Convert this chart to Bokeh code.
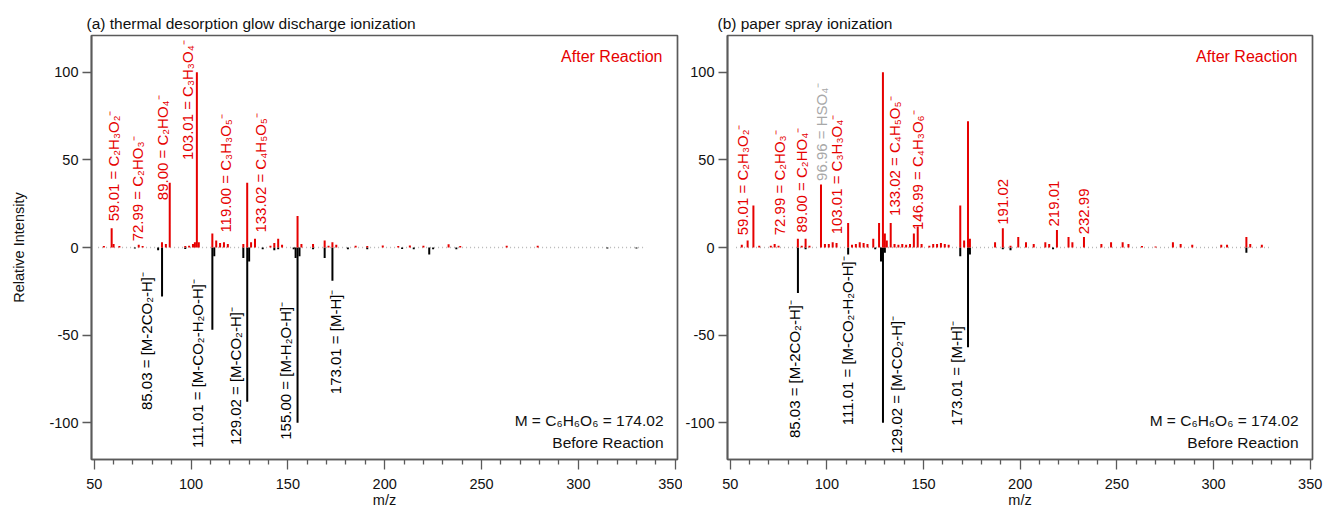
import numpy as np
from bokeh.plotting import figure
from bokeh.layouts import row
from bokeh.models import Range1d, FixedTicker, Label, ColumnDataSource
from bokeh.core.properties import value
from bokeh.embed import file_html
from bokeh.resources import INLINE

FONT = "Liberation Sans"
RED = "#e60000"
GREY_LAB = "#a8a8a8"
FRAME = "#5a5a5a"

# ---------------- data: panel (a) thermal desorption glow discharge ----------------
a_after_mz = [55, 59.01, 60, 63, 72.99, 75, 85, 87, 89.00, 97, 99, 101, 102, 103.01, 104,
              111, 113, 115, 117, 119.00, 127, 129, 131, 133.02, 141, 143, 145, 147, 155,
              157, 163, 169, 171, 173, 175, 185, 191, 199, 207, 213, 220, 233, 239, 263, 279]
a_after_int = [0.8, 11, 2, 0.8, 1.5, 0.8, 3, 2, 37, 0.8, 1, 2, 3, 100, 3,
               8, 4, 2.5, 3, 2, 2, 37, 3, 5, 1, 2.5, 5, 1.5, 18,
               2, 2, 4, 1, 3, 1.5, 1, 0.8, 1.2, 0.8, 1.2, 1, 1.8, 0.8, 1, 1]
a_before_mz = [71, 83, 85.03, 97, 111.01, 112, 127, 129.02, 130, 137, 143, 145, 153, 154,
               155.00, 156, 163, 169, 173.01, 181, 191, 209, 215, 223, 225, 237, 315, 330]
a_before_int = [-0.5, -1.5, -28, -0.8, -47, -5, -6, -88, -8, -1, -1.5, -1, -1, -6,
                -100, -5, -1, -6, -19, -1, -1, -0.8, -1, -4, -1, -1, -0.5, -0.5]

a_after_text = ["59.01 = C₂H₃O₂⁻", "72.99 = C₂HO₃⁻", "89.00 = C₂HO₄⁻",
                "103.01 = C₃H₃O₄⁻", "119.00 = C₃H₃O₅⁻", "133.02 = C₄H₅O₅⁻"]
a_before_text = ["85.03 = [M-2CO₂-H]⁻", "111.01 = [M-CO₂-H₂O-H]⁻", "129.02 = [M-CO₂-H]⁻",
                 "155.00 = [M-H₂O-H]⁻", "173.01 = [M-H]⁻"]

# ---------------- data: panel (b) paper spray ionization ----------------
b_after_mz = [56, 59.01, 62, 65, 71, 72.99, 75, 85, 87, 89.00, 91, 96.96, 99, 101, 103.01,
              105, 111, 113, 115, 117, 119, 121, 124, 127, 129, 130, 131, 133.02, 135, 137,
              139, 141, 143, 145, 146.99, 149, 153, 155, 157, 159, 161, 163, 169, 171, 173,
              174, 187, 191.02, 195, 199, 203, 207, 213, 215, 219.01, 225, 227, 232.99, 242,
              247, 253, 256, 263, 270, 279, 283, 289, 304, 307, 317, 319, 325]
b_after_int = [1.5, 4, 24, 1, 1, 2, 1, 5, 1, 5, 1, 36, 2, 2, 3,
               2.5, 14, 1.5, 2, 3, 2.5, 2, 5, 14, 100, 8, 4, 14, 2, 1.5,
               2, 1.5, 2, 8, 12, 2, 1, 2, 2, 2.5, 2, 1.5, 24, 4, 72,
               5, 3, 11, 1, 6, 3, 2, 3, 2, 10, 6, 3, 6, 2,
               3, 3, 2, 0.8, 0.5, 3, 2, 1.5, 1.5, 1.5, 6, 2, 1.5]
b_before_mz = [85.03, 89, 111.01, 125, 128, 129.02, 130, 169, 173.01, 174, 191, 195, 217, 317]
b_before_int = [-26, -1, -4, -1, -8, -100, -3, -5, -57, -4, -1, -1.5, -1, -3]

b_after_text = ["59.01 = C₂H₃O₂⁻", "72.99 = C₂HO₃⁻", "89.00 = C₂HO₄⁻", "96.96 = HSO₄⁻",
                "103.01 = C₃H₃O₄⁻", "133.02 = C₄H₅O₅⁻", "146.99 = C₄H₃O₆⁻",
                "191.02", "219.01", "232.99"]
b_before_text = ["85.03 = [M-2CO₂-H]⁻", "111.01 = [M-CO₂-H₂O-H]⁻",
                 "129.02 = [M-CO₂-H]⁻", "173.01 = [M-H]⁻"]

x_ticks = [50, 100, 150, 200, 250, 300, 350]
y_ticks = [-100, -50, 0, 50, 100]

# ---------------- annotation placement (text anchors, data units) ----------------
a_after_pos = [(60.0, 15), (72.3, 3.5), (85.3, 27), (98.2, 50), (117.8, 8.5), (135.9, 8.5)]
a_before_pos = [(77.0, -14), (103.3, -18), (123.0, -34), (148.8, -31), (174.6, -24)]
b_after_pos = [(56.3, 7), (75.4, 7), (86.8, 8.5), (97.1, 38), (104.9, 7.5), (134.8, 18),
               (146.7, 10), (191.1, 13), (217.4, 12), (232.9, 7.5)]
b_after_col = [RED, RED, RED, GREY_LAB, RED, RED, RED, RED, RED, RED]
b_before_pos = [(83.2, -30), (110.6, -5), (135.9, -39), (166.8, -42)]

X_LO, X_HI = 48.6, 351.2
Y_LO, Y_HI = -121, 121


def make_panel(title, title_off, after_mz, after_int, before_mz, before_int,
               after_text, after_pos, after_col, before_text, before_pos,
               ylabel, width, left, right):
    p = figure(width=width, height=512, x_range=Range1d(X_LO, X_HI),
               y_range=Range1d(Y_LO, Y_HI), output_backend="svg", toolbar_location=None,
               min_border_left=left, min_border_right=right, min_border_top=35,
               min_border_bottom=53, title=title)
    p.title.text_font = FONT
    p.title.text_font_size = "15.5px"
    p.title.text_font_style = "normal"
    p.title.align = "left"
    p.title.offset = title_off
    p.title.standoff = 7
    p.title.text_color = "#111111"
    p.grid.visible = False
    p.outline_line_color = FRAME
    p.outline_line_width = 1.7
    p.background_fill_color = "white"
    p.border_fill_color = "white"

    for ax in (p.xaxis[0], p.yaxis[0]):
        ax.axis_line_color = FRAME
        ax.axis_line_width = 1.7
        ax.major_tick_line_color = FRAME
        ax.minor_tick_line_color = FRAME
        ax.major_tick_line_width = 1.3
        ax.minor_tick_line_width = 1.3
        ax.major_tick_in = 0
        ax.minor_tick_in = 0
        ax.major_label_text_font = FONT
        ax.major_label_text_font_size = "14.5px"
        ax.major_label_text_color = "#111111"
        ax.axis_label_text_font = FONT
        ax.axis_label_text_font_size = "14.5px"
        ax.axis_label_text_font_style = "normal"
        ax.axis_label_text_color = "#111111"

    p.xaxis.ticker = FixedTicker(ticks=x_ticks,
                                 minor_ticks=[t for t in range(60, 350, 10) if t % 50])
    p.xaxis.major_tick_out = 10
    p.xaxis.minor_tick_out = 5
    p.xaxis.major_label_standoff = 9
    p.xaxis.axis_label = "m/z"
    p.xaxis.axis_label_standoff = 0

    p.yaxis.ticker = FixedTicker(ticks=y_ticks, minor_ticks=[])
    p.yaxis.major_label_overrides = {t: str(t) for t in y_ticks}
    p.yaxis.major_tick_out = 9
    p.yaxis.minor_tick_out = 0
    p.yaxis.major_label_standoff = 4
    if ylabel:
        p.yaxis.axis_label = ylabel
        p.yaxis.axis_label_standoff = 19

    # dotted baseline across the measured range
    all_mz = after_mz + before_mz
    p.line([min(all_mz) - 3, max(all_mz) + 5], [0, 0], line_color="#b8b8b8",
           line_dash="1 3", line_width=1.5)

    # stick spectra
    p.segment(x0=before_mz, y0=[0] * len(before_mz), x1=before_mz, y1=before_int,
              line_color="black", line_width=2)
    p.segment(x0=after_mz, y0=[0] * len(after_mz), x1=after_mz, y1=after_int,
              line_color=RED, line_width=2)

    # peak labels (rotated)
    src_a = ColumnDataSource(dict(x=[q[0] for q in after_pos], y=[q[1] for q in after_pos],
                                  t=after_text, c=after_col))
    p.text(x="x", y="y", text="t", text_color="c", source=src_a, angle=np.pi / 2,
           text_align="left", text_baseline="middle", text_font=value(FONT),
           text_font_size="15px")
    src_b = ColumnDataSource(dict(x=[q[0] for q in before_pos], y=[q[1] for q in before_pos],
                                  t=before_text))
    p.text(x="x", y="y", text="t", text_color="black", source=src_b, angle=np.pi / 2,
           text_align="right", text_baseline="middle", text_font=value(FONT),
           text_font_size="15px")

    p.add_layout(Label(x=X_HI, y=109, x_offset=-15, text="After Reaction", text_align="right",
                       text_baseline="middle", text_color=RED, text_font=FONT,
                       text_font_size="16px"))
    p.add_layout(Label(x=X_HI, y=-99, x_offset=-14, text="M = C₆H₆O₆ = 174.02",
                       text_align="right", text_baseline="middle", text_color="#111111",
                       text_font=FONT, text_font_size="15.5px"))
    p.add_layout(Label(x=X_HI, y=-111.5, x_offset=-14, text="Before Reaction",
                       text_align="right", text_baseline="middle", text_color="#111111",
                       text_font=FONT, text_font_size="15.5px"))
    return p


pa = make_panel("(a) thermal desorption glow discharge ionization", -5,
                a_after_mz, a_after_int, a_before_mz, a_before_int,
                a_after_text, a_after_pos, [RED] * len(a_after_text),
                a_before_text, a_before_pos, "Relative Intensity", 682, 91, 5)
pb = make_panel("(b) paper spray ionization", -10,
                b_after_mz, b_after_int, b_before_mz, b_before_int,
                b_after_text, b_after_pos, b_after_col,
                b_before_text, b_before_pos, None, 642, 44, 12)

layout = row(pa, pb)
open("out.html", "w").write(file_html(layout, INLINE))
